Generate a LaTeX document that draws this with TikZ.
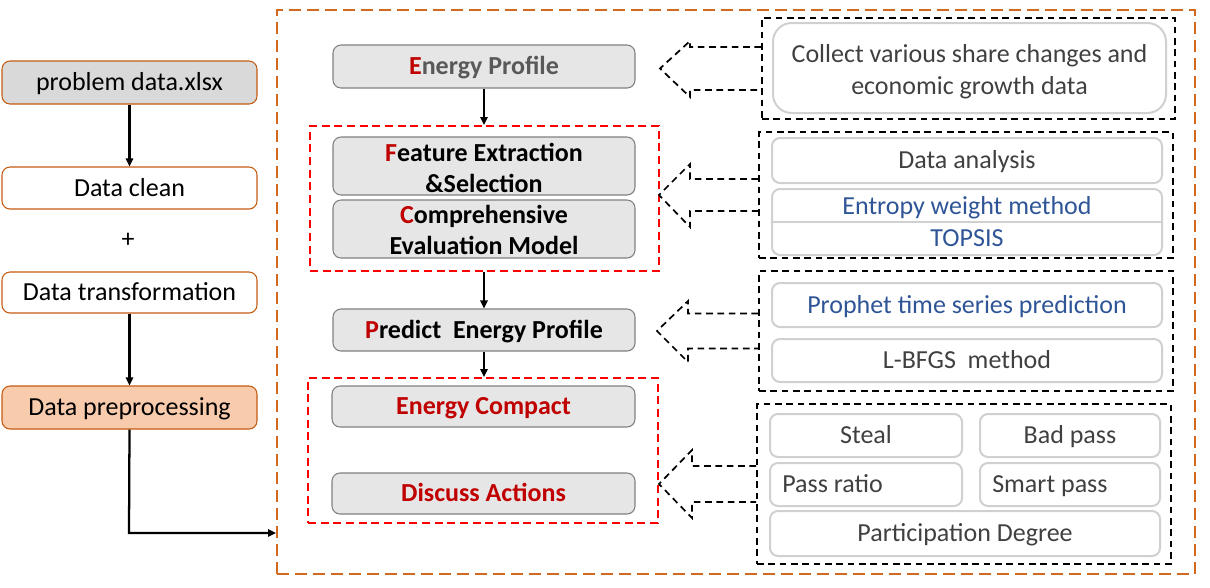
\documentclass[tikz,border=0pt]{standalone}
\usepackage{fontspec}
\setmainfont{Carlito}
\usetikzlibrary{arrows.meta,calc,fit}
\definecolor{orangeB}{HTML}{C55A11}
\definecolor{outerO}{HTML}{D2691E}
\definecolor{grayfill}{HTML}{E6E6E6}
\definecolor{leftgray}{HTML}{D9D9D9}
\definecolor{peach}{HTML}{F8CBAD}
\definecolor{darkred}{HTML}{C00000}
\definecolor{blueT}{HTML}{2F5597}
\definecolor{textgray}{HTML}{404040}
\definecolor{epgray}{HTML}{595959}
\definecolor{lightborder}{HTML}{D0D0D0}
\definecolor{midborder}{HTML}{808080}
\begin{document}
\begin{tikzpicture}[x=0.75pt,y=-0.75pt,
  oneline/.style={text height=12.5pt, text depth=0pt},
  leftbox/.style={draw=orangeB, line width=0.8pt, rounded corners=6pt, inner sep=0pt},
  lefttext/.style={inner sep=0pt, font=\fontsize{19.5}{23}\selectfont, text=black, oneline},
  midbox/.style={draw=midborder, fill=grayfill, line width=0.8pt, rounded corners=6pt, inner sep=0pt},
  midtext/.style={inner sep=0pt, font=\bfseries\fontsize{19.5}{23}\selectfont, align=center, text=black},
  rbox/.style={draw=lightborder, line width=1.5pt, rounded corners=6pt, inner sep=0pt},
  rtext/.style={inner sep=0pt, font=\fontsize{19.5}{24}\selectfont, text=textgray, align=center},
  outerbox/.style={draw=outerO, line width=1.5pt, dash pattern=on 9pt off 4.5pt, inner sep=0pt},
  redbox/.style={draw=red, line width=1.5pt, dash pattern=on 6pt off 3.5pt, inner sep=0pt},
  blackbox/.style={draw=black, line width=1.3pt, dash pattern=on 5pt off 3.5pt, inner sep=0pt},
  darr/.style={draw=black, line width=1.3pt, dash pattern=on 5pt off 3.5pt, line join=miter},
  solidarr/.style={-{Triangle[length=6pt,width=5.5pt]}, line width=1.7pt}
]
\useasboundingbox (0,0) rectangle (1210,587);

% outer box
\node[outerbox, fit={(277,10)(1195,574)}] (outer) {};

% left column
\node[leftbox, fill=leftgray, fit={(2,61)(257,104)}] (pd) {};
\node[lefttext] (pdt) at (pd.center) {problem data.xlsx};
\node[leftbox, fill=white, fit={(2,167)(257,209)}] (dc) {};
\node[lefttext] (dct) at (dc.center) {Data clean};
\node[lefttext] (plus) at (128,239) {+};
\node[leftbox, fill=white, fit={(2,272)(257,313)}] (dt) {};
\node[lefttext] (dtt) at (dt.center) {Data transformation};
\node[leftbox, fill=peach, fit={(2,386)(257,429)}] (dp) {};
\node[lefttext] (dpt) at (dp.center) {Data preprocessing};

\draw[solidarr] (pd.south) -- (dc.north);
\draw[solidarr] (dt.south) -- (dp.north);
\coordinate (bend) at (129,533);
\draw[solidarr] (dp.south) -- (bend) -- (outer.west |- bend);

% middle column
\node[midbox, fit={(333,45)(635,88)}] (ep) {};
\node[midtext, oneline, text=epgray] (ept) at (ep.center) {\textcolor{darkred}{E}nergy Profile};
\node[redbox, fit={(310,126)(659,271)}] (rb1) {};
\node[midbox, fit={(333,137)(635,195)}] (fe) {};
\node[midtext] (fet) at ($(fe.center)+(0,2)$) {\textcolor{darkred}{F}eature Extraction\\\&Selection};
\node[midbox, fit={(333,200)(635,258)}] (ce) {};
\node[midtext] (cet) at ($(ce.center)+(0,1)$) {\textcolor{darkred}{C}omprehensive\\Evaluation Model};
\node[midbox, fit={(333,309)(635,351)}] (pe) {};
\node[midtext, oneline] (pet) at (pe.center) {\textcolor{darkred}{P}redict\ \ Energy Profile};
\node[redbox, fit={(308,378)(658,523)}] (rb2) {};
\node[midbox, fit={(332,386)(635,427)}] (ec) {};
\node[midtext, oneline, text=darkred] (ect) at (ec.center) {Energy Compact};
\node[midbox, fit={(332,473)(635,514)}] (da) {};
\node[midtext, oneline, text=darkred] (dat) at (da.center) {Discuss Actions};

\draw[solidarr, line width=1.3pt] (ep.south) -- (rb1.north -| ep.south);
\draw[solidarr, line width=1.3pt] (rb1.south -| pe.north) -- (pe.north);
\draw[solidarr, line width=1.3pt] (pe.south) -- (rb2.north -| pe.south);

% right column
\node[blackbox, fit={(762,18)(1175,119)}] (bb1) {};
\node[rbox, rounded corners=14pt, fit={(773,23)(1166,113)}] (col) {};
\node[rtext] (colt) at ($(col.center)+(0,4)$) {Collect various share changes and\\economic growth data};

\node[blackbox, fit={(759,132)(1173,258)}] (bb2) {};
\node[rbox, fit={(772,138)(1162,183)}] (dan) {};
\node[rtext, oneline] (dant) at (dan.center) {Data analysis};
\node[rbox, fit={(772,189)(1162,255)}] (ent) {};
\coordinate (tdiv) at (0,222);
\draw[lightborder, line width=1pt] (ent.west |- tdiv) -- (ent.east |- tdiv);
\node[rtext, oneline, text=blueT] (entt) at (967,206) {Entropy weight method};
\node[rtext, oneline, text=blueT] (tops) at (967,238) {TOPSIS};

\node[blackbox, fit={(759,271)(1173,391)}] (bb3) {};
\node[rbox, fit={(772,283)(1162,327)}] (pro) {};
\node[rtext, oneline, text=blueT] (prot) at (pro.center) {Prophet time series prediction};
\node[rbox, fit={(772,339)(1162,382)}] (lb) {};
\node[rtext, oneline] (lbt) at (lb.center) {L-BFGS\ \ method};

\node[blackbox, fit={(757,404)(1171,564)}] (bb4) {};
\node[rbox, fit={(770,414)(962,457)}] (st) {};
\node[rtext, oneline] (stt) at (st.center) {Steal};
\node[rbox, fit={(980,414)(1160,457)}] (bp) {};
\node[rtext, oneline] (bpt) at (bp.center) {Bad pass};
\node[rbox, fit={(770,463)(962,506)}] (prb) {};
\node[rtext, oneline, anchor=west] (prt) at ($(prb.west)+(13,0)$) {Pass ratio};
\node[rbox, fit={(980,463)(1160,506)}] (spb) {};
\node[rtext, oneline, anchor=west] (spt) at ($(spb.west)+(13,0)$) {Smart pass};
\node[rbox, fit={(770,511)(1160,556)}] (pdg) {};
\node[rtext, oneline] (pdgt) at (pdg.center) {Participation Degree};

% hollow dashed arrows
\draw[darr] ($(bb1.west)+(0,-21.5)$) -- (690,47) -- (690,41) -- (660,68.5) -- (690,97) -- (690,90) -- ($(bb1.west)+(0,21.5)$);
\draw[darr] ($(bb2.west)+(0,-16)$) -- (690,179) -- (690,164) -- (rb2.east |- bb2.west) -- (690,227) -- (690,211) -- ($(bb2.west)+(0,16)$);
\draw[darr] ($(bb3.west)+(0,-17.5)$) -- (688,313.5) -- (688,301) -- (657,331) -- (688,362) -- (688,348.5) -- ($(bb3.west)+(0,17.5)$);
\draw[darr] ($(bb4.west)+(0,-18)$) -- (692,466) -- (692,450) -- (rb2.east |- bb4.west) -- (692,518) -- (692,502) -- ($(bb4.west)+(0,18)$);
\end{tikzpicture}
\end{document}
